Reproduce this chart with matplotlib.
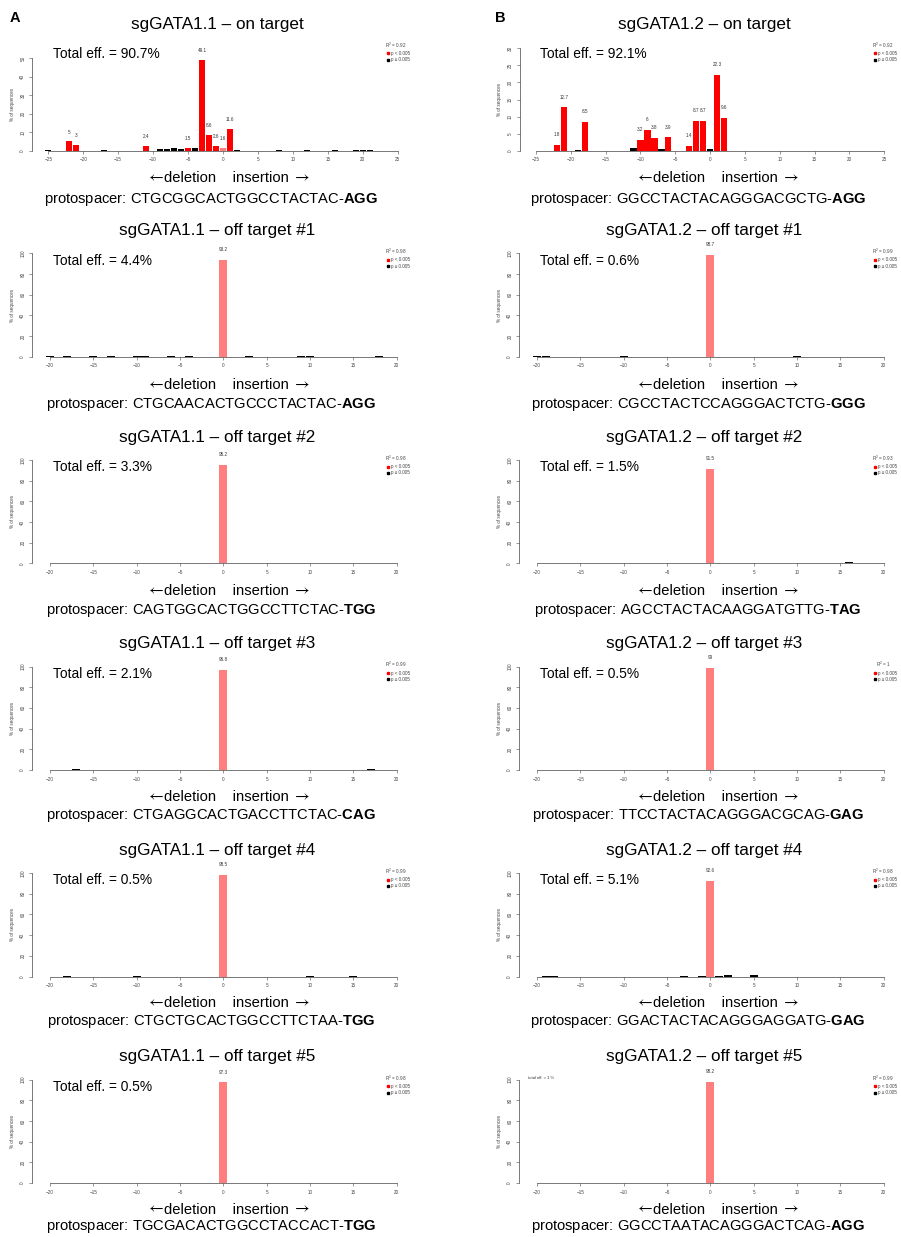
import matplotlib
matplotlib.use('Agg')
import matplotlib.pyplot as plt
from matplotlib.lines import Line2D

plt.rcParams['font.family'] = ['Liberation Sans', 'DejaVu Sans']
plt.rcParams['mathtext.fontset'] = 'custom'
plt.rcParams['mathtext.rm'] = 'Liberation Sans'
plt.rcParams['mathtext.bf'] = 'Liberation Sans:bold'
plt.rcParams['mathtext.it'] = 'Liberation Sans:italic'

# ---------------- data ----------------
# colour class: 'r' = p < 0.005 (red), 'k' = p >= 0.005 (black), 'p' = unmodified (pink)
sg11_on_pos = [-25, -22, -21, -17, -11, -9, -8, -7, -6, -5, -4, -3, -2, -1, 0, 1, 2, 8, 12, 16, 19, 20, 21]
sg11_on_val = [0.3, 5, 3, 0.2, 2.4, 0.8, 0.8, 1.2, 0.7, 1.5, 1.2, 49.1, 8.6, 2.6, 1.6, 11.6, 0.3, 0.4, 0.2, 0.3, 0.3, 0.4, 0.2]
sg11_on_cls = ['k', 'r', 'r', 'k', 'r', 'k', 'k', 'k', 'k', 'r', 'k', 'r', 'r', 'r', 'p', 'r', 'k', 'k', 'k', 'k', 'k', 'k', 'k']

sg12_on_pos = [-22, -21, -19, -18, -11, -10, -9, -8, -7, -6, -3, -2, -1, 0, 1, 2]
sg12_on_val = [1.8, 12.7, 0.3, 8.5, 0.8, 3.2, 6, 3.8, 0.6, 3.9, 1.4, 8.7, 8.7, 0.4, 22.3, 9.6]
sg12_on_cls = ['r', 'r', 'k', 'r', 'k', 'r', 'r', 'r', 'k', 'r', 'r', 'r', 'r', 'k', 'r', 'r']

sg11_off1_pos = [-20, -18, -15, -13, -10, -9, -6, -4, 0, 3, 9, 10, 18]
sg11_off1_val = [0.2, 0.4, 0.2, 0.4, 0.5, 0.4, 0.5, 0.2, 93.2, 0.3, 0.3, 0.6, 0.4]
sg11_off2_pos = [-20, -15, -10, -5, 0, 2, 8, 15, 16]
sg11_off2_val = [0.2, 0.4, 0.2, 0.2, 95.2, 0.3, 0.3, 0.5, 0.4]
sg11_off3_pos = [-17, -5, 0, 17, 18]
sg11_off3_val = [0.6, 0.2, 96.8, 0.8, 0.3]
sg11_off4_pos = [-18, -10, 0, 10, 15]
sg11_off4_val = [0.2, 0.3, 98.5, 0.2, 0.2]
sg11_off5_pos = [-13, -9, 0, 5, 18]
sg11_off5_val = [0.2, 0.3, 97.3, 0.5, 0.3]

sg12_off1_pos = [-20, -19, -10, 0, 10]
sg12_off1_val = [0.3, 0.3, 0.2, 98.7, 0.2]
sg12_off2_pos = [-10, 0, 16]
sg12_off2_val = [0.6, 91.5, 0.9]
sg12_off3_pos = [-19, 0, 10]
sg12_off3_val = [0.2, 99, 0.2]
sg12_off4_pos = [-19, -18, -3, -1, 0, 1, 2, 5]
sg12_off4_val = [0.4, 0.8, 0.3, 0.8, 92.6, 0.4, 1.0, 1.2]
sg12_off5_pos = [-19, -13, -9, 0, 20]
sg12_off5_val = [0.3, 0.3, 0.3, 98.2, 0.4]

titles_A = ['sgGATA1.1 – on target'] + ['sgGATA1.1 – off target #%d' % i for i in range(1, 6)]
titles_B = ['sgGATA1.2 – on target'] + ['sgGATA1.2 – off target #%d' % i for i in range(1, 6)]
eff_A = ['90.7', '4.4', '3.3', '2.1', '0.5', '0.5']
eff_B = ['92.1', '0.6', '1.5', '0.5', '5.1', None]
r2_A = ['0.92', '0.98', '0.98', '0.99', '0.99', '0.98']
r2_B = ['0.92', '0.99', '0.93', '1', '0.98', '0.99']
proto_A = [('CTGCGGCACTGGCCTACTAC', 'AGG'), ('CTGCAACACTGCCCTACTAC', 'AGG'),
           ('CAGTGGCACTGGCCTTCTAC', 'TGG'), ('CTGAGGCACTGACCTTCTAC', 'CAG'),
           ('CTGCTGCACTGGCCTTCTAA', 'TGG'), ('TGCGACACTGGCCTACCACT', 'TGG')]
proto_B = [('GGCCTACTACAGGGACGCTG', 'AGG'), ('CGCCTACTCCAGGGACTCTG', 'GGG'),
           ('AGCCTACTACAAGGATGTTG', 'TAG'), ('TTCCTACTACAGGGACGCAG', 'GAG'),
           ('GGACTACTACAGGGAGGATG', 'GAG'), ('GGCCTAATACAGGGACTCAG', 'AGG')]

off_A = [(sg11_off1_pos, sg11_off1_val), (sg11_off2_pos, sg11_off2_val), (sg11_off3_pos, sg11_off3_val),
         (sg11_off4_pos, sg11_off4_val), (sg11_off5_pos, sg11_off5_val)]
off_B = [(sg12_off1_pos, sg12_off1_val), (sg12_off2_pos, sg12_off2_val), (sg12_off3_pos, sg12_off3_val),
         (sg12_off4_pos, sg12_off4_val), (sg12_off5_pos, sg12_off5_val)]

COLORS = {'r': '#ff0000', 'k': '#000000', 'p': '#ff7f7f'}

# ---------------- layout ----------------
W, H = 901, 1237
fig = plt.figure(figsize=(W / 100, H / 100), dpi=100)
fig.patch.set_facecolor('white')
renderer = fig.canvas.get_renderer()
ROW = 206.6


def fx(x):
    return x / W


def fy(y):
    return 1 - y / H


def panel(pos, val, cls, xa, xb, pxa, pxb, ymax, ystep, py0, pytop, yaxis_off):
    sx = (pxb - pxa) / (xb - xa)
    padl, padr = 3.0, 1.5
    left_px = pxa - padl * sx
    right_px = pxb + padr * sx
    ax = fig.add_axes([fx(left_px), fy(py0), (right_px - left_px) / W, (py0 - pytop) / H])
    ax.set_xlim(xa - padl, xb + padr)
    ax.set_ylim(0, ymax)
    cols = [COLORS[c] for c in cls]
    ax.bar(pos, val, width=0.9, color=cols, linewidth=0, clip_on=False)
    for p, v, c in zip(pos, val, cls):
        if c in ('r', 'p'):
            ax.text(p, v + 0.1 * ymax, '%g' % v, ha='center', va='center', fontsize=3.3,
                    color='#333333', clip_on=False)
    for s in ('top', 'right'):
        ax.spines[s].set_visible(False)
    ax.spines['left'].set_position(('data', xa - yaxis_off / sx))
    ax.spines['left'].set_bounds(0, ymax)
    ax.spines['bottom'].set_bounds(xa, xb)
    for s in ('left', 'bottom'):
        ax.spines[s].set_linewidth(0.5)
        ax.spines[s].set_color('#444444')
    ax.set_xticks(range(xa, xb + 1, 5))
    ax.set_yticks(range(0, ymax + 1, ystep))
    ax.tick_params(axis='both', length=2.2, width=0.4, color='#444444', labelsize=3.3,
                   labelcolor='#444444')
    ax.tick_params(axis='x', pad=2.6)
    ax.tick_params(axis='y', pad=2.8, labelrotation=90)
    for lbl in ax.get_yticklabels():
        lbl.set_va('center')
    ax.patch.set_alpha(0)
    axis_px = pxa - yaxis_off
    fig.text(fx(axis_px - 20), fy((py0 + pytop) / 2), '% of sequences', rotation=90,
             ha='center', va='center', fontsize=3.3, color='#444444')
    return ax


def legend(xc, ysq, xsq, r2):
    fig.text(fx(xc), fy(ysq), r'R$^2$ = ' + r2, ha='center', va='center', fontsize=3.3, color='#444444')
    for k, (col, lab) in enumerate([('#ff0000', 'p < 0.005'), ('#000000', 'p ≥ 0.005')]):
        yy = ysq + 8.3 + 6.3 * k
        fig.add_artist(Line2D([fx(xsq)], [fy(yy)], marker='s', ms=1.8, color=col,
                              transform=fig.transFigure, linestyle='none'))
        fig.text(fx(xsq + 3), fy(yy), lab, ha='left', va='center', fontsize=3.3, color='#444444')


def deletion_label(xc, y):
    t = fig.text(fx(xc - 1), fy(y), 'deletion    insertion', ha='center', va='center', fontsize=10.6)
    bb = t.get_window_extent(renderer)
    fig.text((bb.x0 + 0.5) / W, fy(y - 1.3), r'$\leftarrow$', ha='right', va='center', fontsize=11.5,
             math_fontfamily='stix')
    fig.text((bb.x1 + 3.5) / W, fy(y - 1.3), r'$\rightarrow$', ha='left', va='center', fontsize=11.5,
             math_fontfamily='stix')


# column definitions
for col in range(2):
    dx = 0 if col == 0 else 487.0
    titles = titles_A if col == 0 else titles_B
    effs = eff_A if col == 0 else eff_B
    r2s = r2_A if col == 0 else r2_B
    protos = proto_A if col == 0 else proto_B
    offs = off_A if col == 0 else off_B
    title_x = 217.5 if col == 0 else 704
    del_x = 227 if col == 0 else 716
    pro_x = 211 if col == 0 else 698
    for r in range(6):
        oy = ROW * r
        if r == 0:
            if col == 0:
                panel(sg11_on_pos, sg11_on_val, sg11_on_cls, -25, 25, 48.3, 397.7, 50, 10, 150.7, 58, 16)
            else:
                panel(sg12_on_pos, sg12_on_val, sg12_on_cls, -25, 25, 536, 884.3, 30, 5, 150.7, 48.3, 16)
        else:
            pos, val = offs[r - 1]
            cls = ['p' if p == 0 else 'k' for p in pos]
            panel(pos, val, cls, -20, 20, 50 + dx, 396.7 + dx, 100, 20,
                  356.7 + ROW * (r - 1), 253.3 + ROW * (r - 1), 17.7)
        fig.text(fx(title_x), fy(24 + oy), titles[r], ha='center', va='center', fontsize=12.3)
        deletion_label(del_x, 178.5 + 206.2 * r)
        seq, pam = protos[r]
        fig.text(fx(pro_x), fy(199.5 + 205.4 * r), 'protospacer: ' + seq + r'-$\mathbf{' + pam + '}$',
                 ha='center', va='center', fontsize=10.6)
        if effs[r] is not None:
            fig.text(fx(53 + dx), fy(54 + oy), 'Total eff. = %s%%' % effs[r], ha='left', va='center',
                     fontsize=9.9)
        legend(396 + dx, 45 + oy, 388 + dx, r2s[r])

fig.text(fx(528), fy(1078), 'total eff. = 1 %', ha='left', va='center', fontsize=3, color='#333333')
fig.text(fx(10), fy(18), 'A', ha='left', va='center', fontsize=10.5, fontweight='bold')
fig.text(fx(495), fy(18), 'B', ha='left', va='center', fontsize=10.5, fontweight='bold')

fig.savefig('out.png', dpi=100, facecolor='white')
